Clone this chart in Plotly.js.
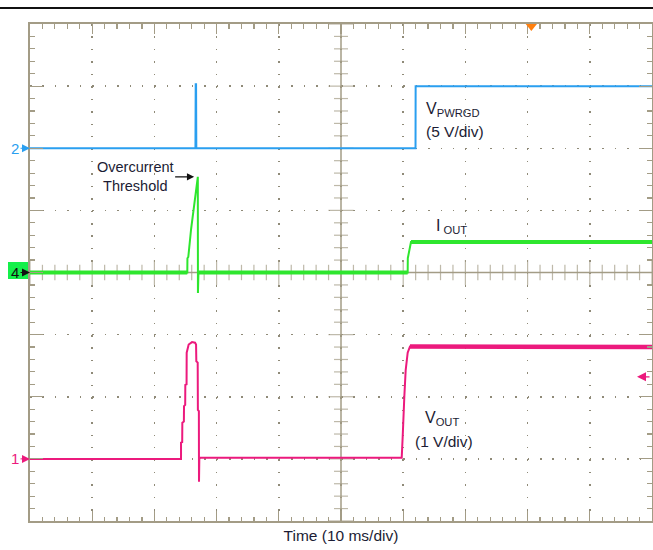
<!DOCTYPE html>
<html>
<head>
<meta charset="utf-8">
<script src="https://cdn.plot.ly/plotly-3.0.1.min.js"></script>
<style>
  html, body { margin: 0; padding: 0; background: #ffffff; }
  #scope { width: 653px; height: 550px; }
</style>
</head>
<body>
<div id="scope"></div>
<script>
// ---- Acquisition: 10 ms/div over 10 divisions, 8 vertical divisions ----
const timeDivMs = 10;
const timeDivs = 10;
const vertDivs = 8;

// Channel 2: power-good output, 5 V/div, ground marker 2 div above centre
const pwrgdVoltsPerDiv = 5;
const pwrgdGroundDiv = 2;
const tPwrgd = [0, 26.60, 26.64, 26.70, 26.74, 61.98, 62.00, 100];
const vPwrgd = [0, 0, 5.15, 5.15, 0, 0, 5.0, 5.0];

// Channel 4: output current, ground marker at centre (values in divisions)
const ioutGroundDiv = 0;
const tIout = [0, 25.29, 25.31, 25.45, 25.90, 26.40, 26.90, 26.98, 27.00, 27.08, 60.72, 60.74, 61.25, 100];
const iOut  = [0, 0, 0.23, 0.25, 0.70, 1.12, 1.54, 1.54, -0.33, 0, 0, 0.23, 0.49, 0.49];

// Channel 1: output voltage, 1 V/div, ground marker 3 div below centre
const voutVoltsPerDiv = 1;
const voutGroundDiv = -3;
const tVout = [0, 24.28, 24.28, 24.47, 24.49, 24.74, 24.76, 24.95, 24.97, 25.17, 25.19, 25.51,
               26.05, 26.53, 26.70, 26.74, 26.96, 26.99, 27.15, 27.17, 27.22, 27.35,
               59.76, 59.92, 60.02, 60.18, 60.40, 60.72, 61.09, 100];
const vOut  = [0, 0, 0.26, 0.27, 0.58, 0.60, 0.85, 0.87, 1.19, 1.20, 1.71, 1.84,
               1.88, 1.87, 1.84, 1.57, 1.55, 0.79, 0.77, -0.37, 0, 0.02,
               0.02, 0.36, 0.68, 1.00, 1.43, 1.71, 1.81, 1.80];
const voutSettledMs = 61.09;   // after this the noisy high level is drawn thicker
const voutTrigLevel = 1.32;    // trigger level marker on channel 1
const trigTimeMs = 80.6;       // trigger position marker

// ---- Styles ----
const gridColor = '#a39c86';
const textColor = '#1c1c34';
const blue = '#2a9ff0';
const green = '#2ee62e';
const pink = '#ec1a7d';
const font = 'Liberation Sans, Arial, sans-serif';

// Axis range for a channel whose ground marker sits at groundDiv
function chanRange(perDiv, groundDiv) {
  return [(-vertDivs / 2 - groundDiv) * perDiv, (vertDivs / 2 - groundDiv) * perDiv];
}

// Flat stretches of a trace (drawn thicker, like a noisy settled level)
function flatRuns(t, v) {
  const x = [], y = [];
  for (let i = 1; i < t.length; i++) {
    if (Math.abs(v[i] - v[i - 1]) < 1e-9 && t[i] - t[i - 1] > 0.3) {
      x.push(t[i - 1], t[i], null);
      y.push(v[i - 1], v[i], null);
    }
  }
  return { x, y };
}

// Centre cross-hair with its 1/5 division ticks
const hTickX = [], hTickY = [], hTickS = [];
for (let k = 0; k <= timeDivs * 5; k++) {
  hTickX.push(k * timeDivMs / 5); hTickY.push(0); hTickS.push(k % 5 === 0 ? 18 : 11);
}
const vTickX = [], vTickY = [], vTickS = [];
for (let k = 0; k <= vertDivs * 5; k++) {
  vTickX.push(timeDivs * timeDivMs / 2); vTickY.push(-vertDivs / 2 + k / 5); vTickS.push(k % 5 === 0 ? 18 : 10);
}

const ioutFlat = flatRuns(tIout, iOut);
const tVoutHigh = [], vVoutHigh = [];
tVout.forEach((t, i) => { if (t >= voutSettledMs) { tVoutHigh.push(t); vVoutHigh.push(vOut[i]); } });

const traces = [
  { x: hTickX, y: hTickY, xaxis: 'x', yaxis: 'y', mode: 'lines+markers',
    line: { color: gridColor, width: 1.5 },
    marker: { symbol: 'line-ns', size: hTickS, line: { color: gridColor, width: 1.2 } } },
  { x: vTickX, y: vTickY, xaxis: 'x', yaxis: 'y', mode: 'lines+markers',
    line: { color: gridColor, width: 1.5 },
    marker: { symbol: 'line-ew', size: vTickS, line: { color: gridColor, width: 1.2 } } },
  { x: tPwrgd, y: vPwrgd, yaxis: 'y2', mode: 'lines', line: { color: blue, width: 2 } },
  { x: tIout, y: iOut, yaxis: 'y3', mode: 'lines', line: { color: green, width: 2 } },
  { x: ioutFlat.x, y: ioutFlat.y, yaxis: 'y3', mode: 'lines', connectgaps: false,
    line: { color: green, width: 4 } },
  { x: tVout, y: vOut, yaxis: 'y4', mode: 'lines', line: { color: pink, width: 2 } },
  { x: tVoutHigh, y: vVoutHigh, yaxis: 'y4', mode: 'lines', line: { color: pink, width: 4.5 } }
];

// Pixel helpers for labels placed around the graticule
const L = 30, T = 24, W = 622, H = 497;
const px = x => (x - L) / W;
const py = y => (T + H - y) / H;

function label(text, x, y, size, opts) {
  return Object.assign({ text, x: px(x), y: py(y), xref: 'paper', yref: 'paper',
    showarrow: false, xanchor: 'left', yanchor: 'middle',
    font: { family: font, size: size, color: textColor } }, opts || {});
}

const annotations = [
  label('V<sub>PWRGD</sub>', 424, 109, 16),
  label('(5 V/div)', 424, 131, 15.5),
  label('I<sub> OUT</sub>', 434, 226, 16),
  label('V<sub>OUT</sub>', 423, 418, 16),
  label('(1 V/div)', 413, 441, 15.5),
  // over-current call-out
  { text: 'Overcurrent<br>Threshold', x: 26.55, y: 1.54, xref: 'x', yref: 'y3',
    ax: -60, ay: 0, showarrow: true, arrowhead: 2, arrowsize: 1.2, arrowwidth: 1.2,
    arrowcolor: '#111111', standoff: 1, align: 'center',
    font: { family: font, size: 14.5, color: textColor } },
  // channel ground markers
  { text: '2', x: 0, y: 0, xref: 'paper', yref: 'y2', ax: -15, ay: 0, showarrow: true,
    arrowhead: 2, arrowsize: 1.6, arrowwidth: 1, arrowcolor: blue, standoff: 0,
    font: { family: font, size: 15, color: blue } },
  { text: '4', x: 0, y: 0, xref: 'paper', yref: 'y3', ax: -15, ay: 0, showarrow: true,
    arrowhead: 2, arrowsize: 1.6, arrowwidth: 1, arrowcolor: '#111111', standoff: 0,
    font: { family: font, size: 15, color: '#111111' } },
  { text: '1', x: 0, y: 0, xref: 'paper', yref: 'y4', ax: -15, ay: 0, showarrow: true,
    arrowhead: 2, arrowsize: 1.6, arrowwidth: 1, arrowcolor: pink, standoff: 0,
    font: { family: font, size: 15, color: pink } },
  // channel 1 trigger level
  { text: '', x: px(637), y: voutTrigLevel, xref: 'paper', yref: 'y4', ax: 14, ay: 0,
    showarrow: true, arrowhead: 2, arrowsize: 1.5, arrowwidth: 1.2, arrowcolor: pink, standoff: 0 }
];

const shapes = [
  // rule across the top of the screen
  { type: 'line', xref: 'paper', yref: 'paper', x0: px(0), x1: px(653), y0: py(8), y1: py(8),
    line: { color: '#111111', width: 2 } },
  // channel 4 badge
  { type: 'rect', xref: 'paper', yref: 'paper', x0: px(8), x1: px(30), y0: py(279), y1: py(262),
    fillcolor: '#14f04a', line: { width: 0 }, layer: 'below' },
  // trigger position marker
  { type: 'path', xref: 'x', yref: 'paper',
    path: `M${trigTimeMs - 0.9},${py(24)} L${trigTimeMs + 0.9},${py(24)} L${trigTimeMs},${py(31)} Z`,
    fillcolor: '#ff7f0e', line: { width: 0 } }
];

const axisCommon = {
  showticklabels: false, showgrid: true, gridcolor: '#8f8a78', gridwidth: 1.5,
  griddash: '1.5px,10.94px', zeroline: false, showline: true, linecolor: gridColor,
  linewidth: 2, mirror: 'ticks', ticks: 'inside', tickcolor: gridColor, tickwidth: 1.2,
  fixedrange: true
};

const layout = {
  width: 653, height: 550,
  margin: { l: L, r: 653 - L - W, t: T, b: 550 - T - H },
  paper_bgcolor: '#ffffff', plot_bgcolor: '#ffffff',
  showlegend: false, hovermode: false,
  xaxis: Object.assign({}, axisCommon, {
    range: [0, timeDivs * timeDivMs], dtick: timeDivMs, ticklen: 10,
    minor: { dtick: timeDivMs / 5, ticks: 'inside', ticklen: 4.5, tickcolor: gridColor, tickwidth: 1.2, showgrid: false },
    title: { text: 'Time (10 ms/div)', standoff: 8, font: { family: font, size: 15.5, color: textColor } }
  }),
  yaxis: Object.assign({}, axisCommon, {
    range: [-vertDivs / 2, vertDivs / 2], dtick: 1, ticklen: 13,
    minor: { dtick: 0.2, ticks: 'inside', ticklen: 5, tickcolor: gridColor, tickwidth: 1.2, showgrid: false }
  }),
  yaxis2: { overlaying: 'y', visible: false, fixedrange: true,
    range: chanRange(pwrgdVoltsPerDiv, pwrgdGroundDiv) },
  yaxis3: { overlaying: 'y', visible: false, fixedrange: true,
    range: chanRange(1, ioutGroundDiv) },
  yaxis4: { overlaying: 'y', visible: false, fixedrange: true,
    range: chanRange(voutVoltsPerDiv, voutGroundDiv) },
  annotations, shapes
};

Plotly.newPlot('scope', traces, layout, { staticPlot: true, displayModeBar: false });
</script>
</body>
</html>
